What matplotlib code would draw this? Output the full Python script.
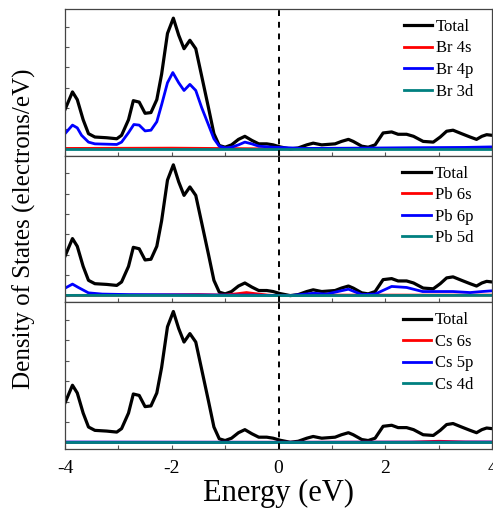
import matplotlib
matplotlib.use('Agg')
import matplotlib.pyplot as plt
from matplotlib.ticker import MultipleLocator, NullFormatter

plt.rcParams['font.family'] = 'Liberation Serif'
plt.rcParams['axes.unicode_minus'] = False

# # total DOS (same curve in every panel)
e_total = [-4.0, -3.86, -3.77, -3.66, -3.56, -3.44, -3.22, -3.03, -2.94, -2.81,
           -2.72, -2.61, -2.50, -2.39, -2.28, -2.19, -2.08, -1.97, -1.87, -1.77,
           -1.66, -1.55, -1.44, -1.31, -1.21, -1.11, -1.0, -0.88, -0.75, -0.63,
           -0.50, -0.37, -0.22, -0.10,
           0.03, 0.22, 0.37, 0.53, 0.65, 0.81, 1.06, 1.18, 1.31, 1.40,
           1.56, 1.68, 1.81, 1.96, 2.12, 2.24, 2.40, 2.53, 2.71, 2.90,
           3.03, 3.15, 3.27, 3.43, 3.59, 3.71, 3.81, 3.90, 4.0]
dos_total = [3.87, 5.6, 4.84, 2.87, 1.5, 1.17, 1.1, 1.0, 1.34, 2.87,
             4.74, 4.6, 3.5, 3.57, 4.84, 7.34, 11.34, 12.84, 11.17, 9.84,
             10.67, 9.84, 7.17, 4.0, 1.5, 0.34, 0.17, 0.4, 0.94, 1.24,
             0.84, 0.5, 0.5, 0.4,
             0.2, 0.0, 0.1, 0.4, 0.57, 0.4, 0.5, 0.74, 0.94, 0.74,
             0.27, 0.17, 0.4, 1.57, 1.67, 1.44, 1.44, 1.24, 0.74, 0.67,
             1.17, 1.74, 1.84, 1.5, 1.17, 0.94, 1.24, 1.4, 1.34]

# # Br partials
e_br4p = [-4.0, -3.86, -3.77, -3.69, -3.56, -3.44, -3.03, -2.94, -2.81, -2.71,
          -2.61, -2.50, -2.39, -2.28, -2.19, -2.08, -1.98, -1.87, -1.77, -1.66,
          -1.55, -1.44, -1.31, -1.21, -1.11, -1.0, -0.88, -0.75, -0.63, -0.50,
          -0.37, -0.10, 0.5, 1.5, 2.5, 3.5, 4.0]
dos_br4p = [1.5, 2.34, 2.07, 1.34, 0.67, 0.5, 0.44, 0.67, 1.6, 2.4,
            2.34, 1.77, 1.84, 2.67, 4.34, 6.5, 7.5, 6.5, 5.74, 6.34,
            5.74, 4.07, 2.34, 1.0, 0.27, 0.1, 0.17, 0.4, 0.67, 0.5,
            0.27, 0.17, 0.05, 0.08, 0.12, 0.15, 0.2]
e_br4s = [-4.0, -2.0, -1.0, 0.0, 2.0, 4.0]
dos_br4s = [0.05, 0.08, 0.04, 0.0, 0.04, 0.06]
e_br3d = [-4.0, 0.0, 4.0]
dos_br3d = [0.0, 0.0, 0.0]

# # Pb partials
e_pb6p = [-4.0, -3.86, -3.75, -3.56, -3.3, -2.8, -2.0, -1.0, -0.5, 0.0,
          0.22, 0.65, 0.9, 1.31, 1.56, 1.81, 2.12, 2.4, 2.7, 3.0,
          3.27, 3.59, 3.81, 4.0]
dos_pb6p = [0.73, 1.13, 0.8, 0.27, 0.15, 0.1, 0.08, 0.05, 0.05, 0.0,
            0.0, 0.23, 0.15, 0.63, 0.1, 0.15, 0.9, 0.8, 0.4, 0.4,
            0.4, 0.3, 0.4, 0.47]
e_pb6s = [-4.0, -2.5, -1.5, -1.0, -0.75, -0.6, -0.45, -0.2, 0.0, 1.0, 2.0, 3.0, 4.0]
dos_pb6s = [0.02, 0.05, 0.1, 0.05, 0.2, 0.3, 0.2, 0.05, 0.0, 0.05, 0.05, 0.05, 0.05]
e_pb5d = [-4.0, 0.0, 4.0]
dos_pb5d = [0.02, 0.0, 0.02]

# # Cs partials
e_cs6s = [-4.0, 0.0, 2.5, 3.0, 3.5, 4.0]
dos_cs6s = [0.0, 0.0, 0.02, 0.1, 0.03, 0.02]
e_cs5p = [-4.0, 0.0, 4.0]
dos_cs5p = [0.02, 0.0, 0.02]
e_cs4d = [-4.0, 0.0, 4.0]
dos_cs4d = [0.0, 0.0, 0.0]

panels = [
    ['Br 4s', 'Br 4p', 'Br 3d'],
    ['Pb 6s', 'Pb 6p', 'Pb 5d'],
    ['Cs 6s', 'Cs 5p', 'Cs 4d'],
]
partials = [
    [(e_br4s, dos_br4s), (e_br4p, dos_br4p), (e_br3d, dos_br3d)],
    [(e_pb6s, dos_pb6s), (e_pb6p, dos_pb6p), (e_pb5d, dos_pb5d)],
    [(e_cs6s, dos_cs6s), (e_cs5p, dos_cs5p), (e_cs4d, dos_cs4d)],
]
colors = ['#ff0000', '#0000ff', '#008080']

fig = plt.figure(figsize=(4.93, 5.11), dpi=100)
left, right, top, bottom = 65 / 493, 492 / 493, 1 - 9 / 511, 1 - 449 / 511
h = (top - bottom) / 3

for i in range(3):
    ax = fig.add_axes([left, top - (i + 1) * h, right - left, h])
    ax.plot(e_total, dos_total, color='black', lw=2.3, label='Total')
    for (e, d), lab, c in zip(partials[i], panels[i], colors):
        ax.plot(e, d, color=c, lw=2.0, label=lab)
    ax.axvline(0, color='black', ls=(0, (3, 3)), lw=1.4)
    ax.set_xlim(-4, 4)
    ax.set_ylim(-0.66, 13.74)
    ax.xaxis.set_major_locator(MultipleLocator(2))
    ax.xaxis.set_minor_locator(MultipleLocator(1))
    ax.yaxis.set_major_locator(MultipleLocator(2))
    ax.yaxis.set_major_formatter(NullFormatter())
    ax.tick_params(which='both', direction='in', length=3, width=0.8,
                   colors='#555555', labelcolor='black', labelsize=14)
    ax.tick_params(axis='x', pad=8)
    for sp in ax.spines.values():
        sp.set_color('#444444')
        sp.set_linewidth(0.9)
    if i < 2:
        ax.xaxis.set_major_formatter(NullFormatter())
    else:
        ax.set_xlabel('Energy (eV)', fontsize=22, labelpad=1)
    ax.legend(loc='upper right', frameon=False, fontsize=12,
              handlelength=1.7, handletextpad=0.25, labelspacing=0.33,
              borderaxespad=0.2, bbox_to_anchor=(0.98, 1.0))

fig.text(0.05, (top + bottom) / 2, 'Density of States (electrons/eV)',
         rotation=90, va='center', ha='center', fontsize=18)

plt.savefig('out.png', dpi=100)
